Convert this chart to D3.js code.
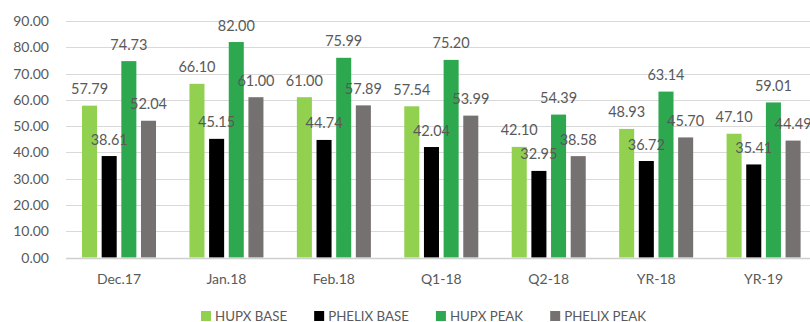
<!DOCTYPE html>
<html>
<head>
<meta charset="utf-8">
<script src="https://cdn.jsdelivr.net/npm/d3@7"></script>
<style>
  body { margin: 0; background: #fff; }
  svg { display: block; font-family: Lato, "Open Sans", sans-serif; }
</style>
</head>
<body>
<svg width="810" height="322"></svg>
<script>
// chart data
const categories = ["Dec.17", "Jan.18", "Feb.18", "Q1-18", "Q2-18", "YR-18", "YR-19"];
const seriesNames = ["HUPX BASE", "PHELIX BASE", "HUPX PEAK", "PHELIX PEAK"];
const hupxBase = [57.79, 66.10, 61.00, 57.54, 42.10, 48.93, 47.10];
const phelixBase = [38.61, 45.15, 44.74, 42.04, 32.95, 36.72, 35.41];
const hupxPeak = [74.73, 82.00, 75.99, 75.20, 54.39, 63.14, 59.01];
const phelixPeak = [52.04, 61.00, 57.89, 53.99, 38.58, 45.70, 44.49];
const yTicks = [0, 10, 20, 30, 40, 50, 60, 70, 80, 90];

const colors = ["#92D050", "#000000", "#2EA84F", "#767171"];
const textColor = "#595959";

const seriesValues = [hupxBase, phelixBase, hupxPeak, phelixPeak];
const rows = [];
categories.forEach((c, i) => {
  seriesNames.forEach((s, j) => {
    rows.push({ cat: c, series: s, value: seriesValues[j][i], color: colors[j] });
  });
});

const svg = d3.select("svg");

const x0 = d3.scaleBand()
  .domain(categories)
  .range([65.3, 817.3])
  .paddingInner(0.311)
  .paddingOuter(0.1555);

const x1 = d3.scaleBand()
  .domain(seriesNames)
  .range([0, x0.bandwidth()])
  .paddingInner(0.235);

const y = d3.scaleLinear()
  .domain([0, 90])
  .range([257.5, 21]);

// gridlines
svg.append("g")
  .selectAll("line")
  .data(yTicks.filter(t => t > 0))
  .join("line")
  .attr("x1", 66)
  .attr("x2", 810)
  .attr("y1", d => Math.round(y(d)) + 0.5)
  .attr("y2", d => Math.round(y(d)) + 0.5)
  .attr("stroke", "#D9D9D9")
  .attr("stroke-width", 1);

// y tick labels
svg.append("g")
  .selectAll("text")
  .data(yTicks)
  .join("text")
  .attr("x", 49)
  .attr("y", d => y(d) + 5)
  .attr("text-anchor", "end")
  .attr("fill", textColor)
  .style("font-size", "14px")
  .text(d => d3.format(".2f")(d));

// bars
svg.append("g")
  .selectAll("rect")
  .data(rows)
  .join("rect")
  .attr("x", d => x0(d.cat) + x1(d.series))
  .attr("y", d => y(d.value))
  .attr("width", x1.bandwidth())
  .attr("height", d => y(0) - y(d.value))
  .attr("fill", d => d.color);

// zero axis line
svg.append("line")
  .attr("x1", 66)
  .attr("x2", 810)
  .attr("y1", Math.round(y(0)) + 0.5)
  .attr("y2", Math.round(y(0)) + 0.5)
  .attr("stroke", "#CFCFCF")
  .attr("stroke-width", 1.5);

// data labels on top
svg.append("g")
  .selectAll("text")
  .data(rows)
  .join("text")
  .attr("x", d => x0(d.cat) + x1(d.series) + x1.bandwidth() / 2)
  .attr("y", d => y(d.value) - 11.5)
  .attr("text-anchor", "middle")
  .attr("fill", textColor)
  .style("font-size", "14.5px")
  .text(d => d3.format(".2f")(d.value));

// category labels
svg.append("g")
  .selectAll("text")
  .data(categories)
  .join("text")
  .attr("x", d => x0(d) + x0.bandwidth() / 2)
  .attr("y", 284)
  .attr("text-anchor", "middle")
  .attr("fill", textColor)
  .style("font-size", "14px")
  .text(d => d);

// legend
const legend = svg.append("g");
let lx = 201;
seriesNames.forEach((s, i) => {
  legend.append("rect")
    .attr("x", lx)
    .attr("y", 311)
    .attr("width", 10)
    .attr("height", 10)
    .attr("fill", colors[i]);
  const t = legend.append("text")
    .attr("x", lx + 14)
    .attr("y", 320.5)
    .attr("fill", textColor)
    .style("font-size", "13.3px")
    .text(s);
  lx += 14 + t.node().getComputedTextLength() + 27;
});
</script>
</body>
</html>
